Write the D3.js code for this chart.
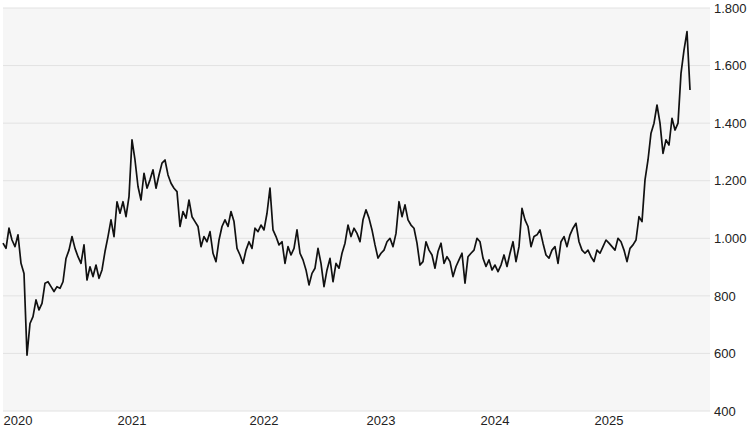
<!DOCTYPE html>
<html>
<head>
<meta charset="utf-8">
<script src="https://cdn.jsdelivr.net/npm/d3@7"></script>
<style>
  body { margin: 0; background: #fff; }
  svg { display: block; font-family: "Liberation Sans", Arial, sans-serif; }
  .tick-label { font-size: 13px; fill: #222; }
</style>
</head>
<body>
<div id="chart"></div>
<script>
var prices = [
  983, 965, 1035, 994, 971, 1012, 913, 878, 594, 704,
  728, 786, 751, 774, 844, 849, 832, 815, 832, 826,
  849, 930, 959, 1006, 965, 936, 913, 977, 855, 901,
  867, 907, 861, 890, 954, 1006, 1064, 1006, 1127, 1087,
  1127, 1075, 1145, 1342, 1272, 1180, 1133, 1226, 1174, 1203,
  1238, 1174, 1220, 1261, 1272, 1220, 1191, 1174, 1162, 1041,
  1093, 1070, 1133, 1075, 1058, 1041, 971, 1006, 988, 1023,
  948, 919, 994, 1041, 1064, 1041, 1093, 1058, 965, 942,
  913, 959, 988, 965, 1035, 1023, 1046, 1029, 1087, 1174,
  1029, 1006, 977, 988, 913, 971, 942, 965, 1029, 948,
  925, 890, 838, 878, 896, 965, 913, 832, 890, 930,
  849, 913, 896, 948, 983, 1046, 1006, 1035, 1017, 988,
  1064, 1099, 1070, 1029, 977,
  931, 948, 959, 988, 1000, 971, 1017, 1127, 1075, 1116,
  1064, 1046, 1035, 983, 907, 919, 988, 959, 942, 896,
  954, 983, 913, 936, 919, 867, 902, 925, 948, 844,
  936, 948, 959, 1000, 988, 931, 902, 925, 890, 907,
  884, 907, 942, 902, 948, 988, 919, 971, 1104, 1064,
  1041, 971, 1006, 1012, 1029, 983, 942, 931, 959, 971,
  913, 988, 1006, 971, 1012, 1035, 1052, 988, 959, 948,
  959, 936, 919, 959, 948, 971, 994, 983, 971, 959,
  1000, 988, 959, 919, 965, 977, 994, 1075, 1058, 1203,
  1272, 1365, 1400, 1463, 1400, 1295, 1342, 1324, 1417, 1376,
  1400, 1573, 1654, 1718, 1515
];

// x axis labels and the sample index where each year starts
var yearLabels = ['2020', '2021', '2022', '2023', '2024', '2025'];
var yearStart = [0, 38, 82, 121, 159, 197];

var yTicks = [400, 600, 800, 1000, 1200, 1400, 1600, 1800];

var width = 753,
    height = 430,
    margin = { left: 3, top: 8, right: 43, bottom: 19 },
    linePadRight = 20;

var chartWidth = width - margin.left - margin.right;
var chartHeight = height - margin.top - margin.bottom;

var de = d3.formatLocale({ decimal: ',', thousands: '.', grouping: [3], currency: ['', ' €'] });
var fmt = de.format(',d');

var svg = d3.select('#chart').append('svg')
    .attr('width', width)
    .attr('height', height);

var chartG = svg.append('g')
    .attr('transform', 'translate(' + margin.left + ',' + margin.top + ')');

chartG.append('rect')
    .attr('width', chartWidth)
    .attr('height', chartHeight)
    .attr('fill', '#f6f6f6');

var xScale = d3.scaleLinear()
    .domain([0, prices.length - 1])
    .range([0, chartWidth - linePadRight]);

var yScale = d3.scaleLinear()
    .domain([400, 1800])
    .range([chartHeight, 0]);

// horizontal gridlines
chartG.selectAll('line.grid')
    .data(yTicks)
    .enter().append('line')
    .attr('class', 'grid')
    .attr('x1', 0)
    .attr('x2', chartWidth)
    .attr('y1', function(d) { return yScale(d); })
    .attr('y2', function(d) { return yScale(d); })
    .attr('stroke', '#e2e2e2')
    .attr('stroke-width', 1);

// y axis on the right
var yAxis = d3.axisRight(yScale)
    .tickValues(yTicks)
    .tickSize(0)
    .tickPadding(4)
    .tickFormat(fmt);

var yAxisG = svg.append('g')
    .attr('transform', 'translate(' + (margin.left + chartWidth) + ',' + margin.top + ')')
    .call(yAxis);
yAxisG.select('.domain').remove();
yAxisG.selectAll('text')
    .attr('class', 'tick-label')
    .attr('font-size', null)
    .attr('font-family', null);

// x axis year labels, left aligned on the first sample of each year
var xAxis = d3.axisBottom(xScale)
    .tickValues(yearStart)
    .tickSize(0)
    .tickPadding(5)
    .tickFormat(function(d, i) { return yearLabels[i]; });

var xAxisG = svg.append('g')
    .attr('transform', 'translate(' + margin.left + ',' + (margin.top + chartHeight) + ')')
    .call(xAxis);
xAxisG.select('.domain').remove();
xAxisG.selectAll('text')
    .attr('class', 'tick-label')
    .attr('font-size', null)
    .attr('font-family', null)
    .attr('text-anchor', 'start');

// price line
var line = d3.line()
    .x(function(d, i) { return xScale(i); })
    .y(function(d) { return yScale(d); });

chartG.append('path')
    .datum(prices)
    .attr('d', line)
    .attr('fill', 'none')
    .attr('stroke', '#111')
    .attr('stroke-width', 1.7)
    .attr('stroke-linejoin', 'round');
</script>
</body>
</html>
